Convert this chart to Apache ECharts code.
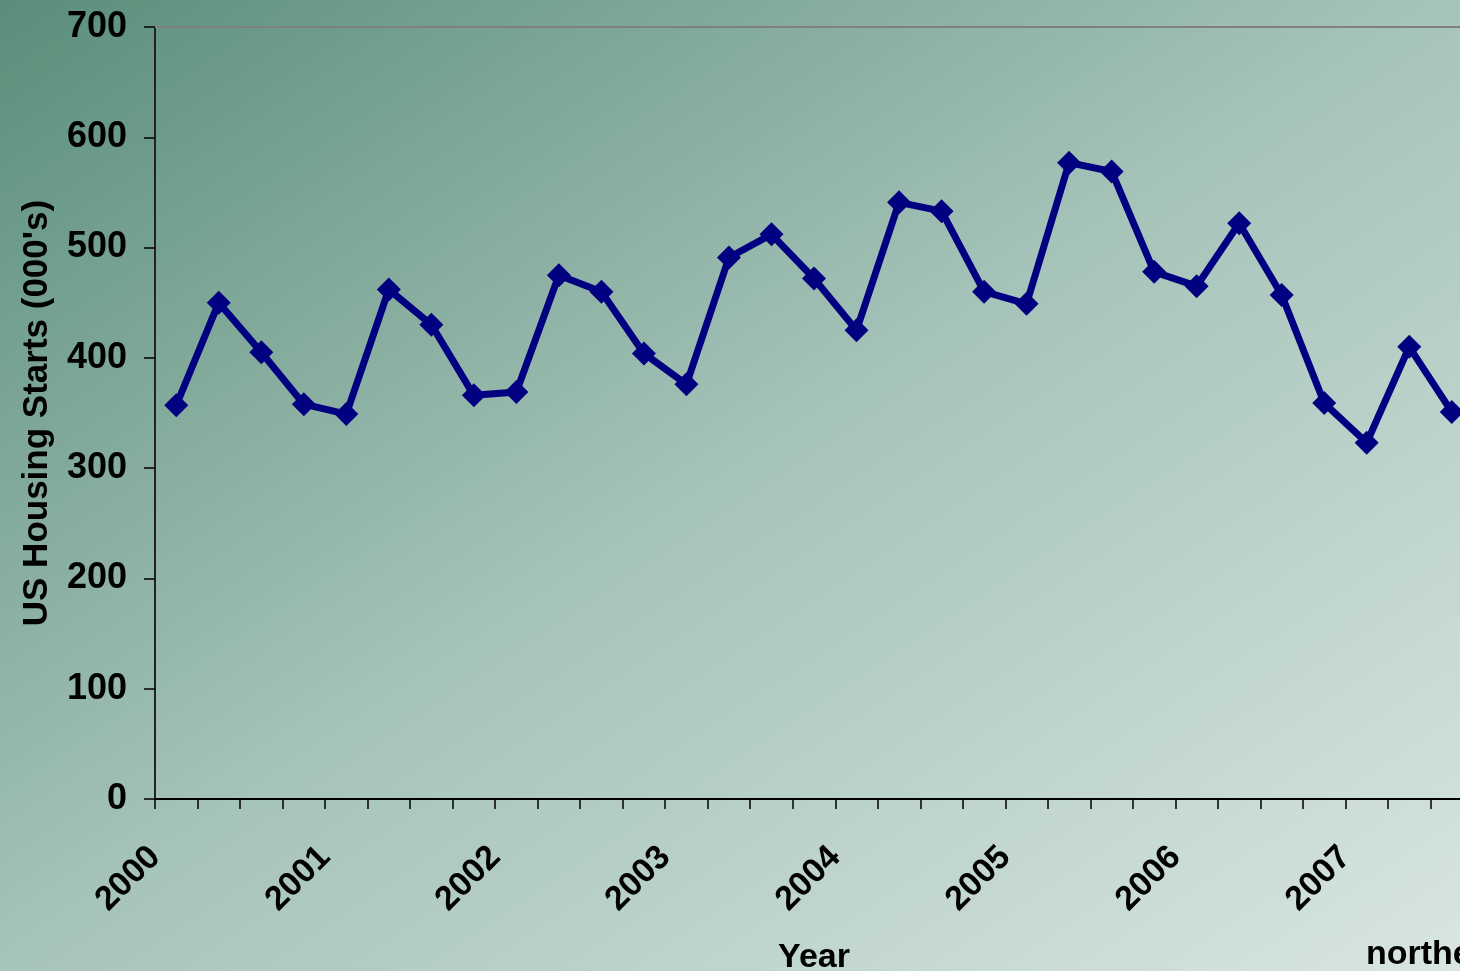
<!DOCTYPE html>
<html>
<head>
<meta charset="utf-8">
<script src="https://cdn.jsdelivr.net/npm/echarts@6/dist/echarts.min.js"></script>
<style>
html,body{margin:0;padding:0;overflow:hidden;}
#chart{width:1460px;height:971px;background:linear-gradient(to bottom right,#5a8e7a 0%,#a7c4ba 50%,#d8e6e0 100%);}
</style>
</head>
<body>
<div id="chart"></div>
<script>
var yearLabels = ['2000','2001','2002','2003','2004','2005','2006','2007'];
var seriesName = 'northeast';
var starts = [357,450,405,358, 349,462,430,366, 369,475,460,404, 376,491,512,472, 425,541,533,460, 449,577,569,478, 465,522,457,359, 323,410,351];
var yTicks = {min:0, max:700, interval:100};

var pts = starts.map(function(v,i){ return [i+0.5, v]; });
var chart = echarts.init(document.getElementById('chart'), null, {renderer:'canvas'});
var fontFam = '"Liberation Sans", Arial, sans-serif';
chart.setOption({
  backgroundColor:'transparent',
  animation:false,
  grid:{left:155, top:27, bottom:172, right:-13, containLabel:false, outerBoundsMode:'none'},
  legend:{data:[seriesName], icon:'none', itemWidth:0, padding:0, left:1361, top:938,
    textStyle:{fontFamily:fontFam, fontWeight:'bold', fontSize:34, color:'#000'}},
  xAxis:[{
    type:'value', min:0, max:starts.length, interval:1,
    name:'Year', nameLocation:'middle', nameGap:142,
    nameTextStyle:{fontFamily:fontFam, fontWeight:'bold', fontSize:34, color:'#000'},
    axisLine:{show:true, lineStyle:{color:'#000', width:2}},
    axisTick:{show:true, length:10, lineStyle:{color:'#000', width:1.5}},
    splitLine:{show:false},
    axisLabel:{rotate:45, margin:53, fontFamily:fontFam, fontWeight:'bold', fontSize:34, color:'#000',
      showMaxLabel:false, showMinLabel:true,
      formatter:function(v){ return (v%4===0 && yearLabels[v/4]) ? yearLabels[v/4] : ''; }}
  },{
    type:'value', position:'top', min:0, max:starts.length,
    axisLine:{show:true, onZero:false, lineStyle:{color:'#808080', width:2}},
    axisTick:{show:false}, axisLabel:{show:false}, splitLine:{show:false}
  }],
  yAxis:{
    type:'value', min:yTicks.min, max:yTicks.max, interval:yTicks.interval,
    name:"US Housing Starts (000's)", nameLocation:'middle', nameGap:100,
    nameTextStyle:{fontFamily:fontFam, fontWeight:'bold', fontSize:35, color:'#000'},
    axisLine:{show:true, lineStyle:{color:'#222', width:2}},
    axisTick:{show:true, length:11, lineStyle:{color:'#000', width:1.5}},
    splitLine:{show:false},
    axisLabel:{margin:28, fontFamily:fontFam, fontWeight:'bold', fontSize:36, color:'#000'}
  },
  series:[{
    name:seriesName, type:'line', data:pts, xAxisIndex:0,
    symbol:'diamond', symbolSize:24,
    lineStyle:{color:'#000080', width:7},
    itemStyle:{color:'#000080'},
    clip:false
  }]
});
</script>
</body>
</html>
